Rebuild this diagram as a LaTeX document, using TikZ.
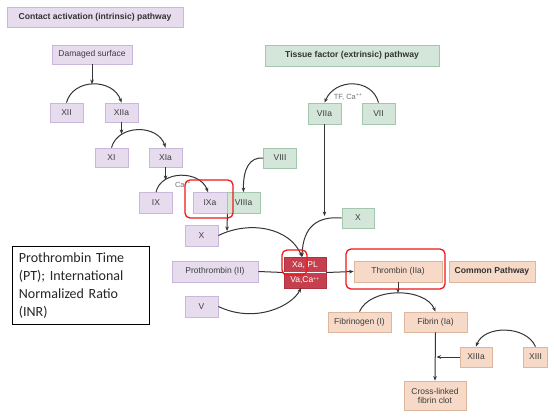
\documentclass[tikz,border=0pt]{standalone}
\usepackage{fontspec}
\setmainfont{Liberation Sans}
\newfontfamily\calibri{Carlito}
\usetikzlibrary{arrows.meta}

\definecolor{txt}{HTML}{3C3C3C}
\definecolor{lineclr}{HTML}{353535}
\definecolor{purfill}{HTML}{E6DCEE}
\definecolor{purdraw}{HTML}{C9B8D9}
\definecolor{grnfill}{HTML}{D3E6D9}
\definecolor{grndraw}{HTML}{A3C6AE}
\definecolor{pchfill}{HTML}{F6D9C7}
\definecolor{pchdraw}{HTML}{DDB69D}
\definecolor{xafill}{HTML}{C63F4E}
\definecolor{xadraw}{HTML}{AF3240}
\definecolor{ringclr}{HTML}{EE1A1A}

\newcommand{\plusplus}{\textsuperscript{\fontsize{5}{5}\selectfont ++}}

\tikzset{
  box/.style={rectangle, inner sep=0pt, line width=0.8pt, text=txt,
    font=\fontsize{8.5}{10}\selectfont, align=center},
  pur/.style={box, fill=purfill, draw=purdraw},
  grn/.style={box, fill=grnfill, draw=grndraw},
  pch/.style={box, fill=pchfill, draw=pchdraw},
  hdr/.style={font=\fontsize{8.6}{10}\selectfont\bfseries, text=black!80},
  conn/.style={draw=lineclr, line width=1pt},
  arr/.style={conn, -{Stealth[length=4.5pt,width=3.6pt]}},
  ring/.style={draw=ringclr, line width=1.3pt, rounded corners=5pt,
    rectangle, inner sep=0pt, fill=none},
  note/.style={font=\fontsize{7.5}{8}\selectfont, text=black!55}
}

\begin{document}
\begin{tikzpicture}[x=1pt, y=-1pt]
\useasboundingbox (0,0) rectangle (554,418);
\fill[white] (0,0) rectangle (554,418);

% intrinsic pathway
\node[pur, hdr, minimum width=176pt, minimum height=20pt] (ttlA) at (95,17) {Contact activation (intrinsic) pathway};
\node[pur, minimum width=80pt, minimum height=19pt] (dmg) at (92,54.5) {Damaged surface};
\node[pur, minimum width=33pt, minimum height=19pt] (xii) at (66.5,112.5) {XII};
\node[pur, minimum width=33pt, minimum height=19pt] (xiia) at (121.5,112.5) {XIIa};
\node[pur, minimum width=33pt, minimum height=19pt] (xi) at (111.5,157.5) {XI};
\node[pur, minimum width=33pt, minimum height=19pt] (xia) at (165.5,157.5) {XIa};
\node[pur, minimum width=33pt, minimum height=21pt] (ix) at (156,203) {IX};
\node[pur, minimum width=34pt, minimum height=21pt] (ixa) at (210,203) {IXa};
\node[grn, minimum width=33pt, minimum height=21pt] (viiia) at (243.5,203) {VIIIa};
\node[grn, minimum width=33pt, minimum height=20pt] (viii) at (280,158) {VIII};
\node[pur, minimum width=33pt, minimum height=21pt] (xp) at (201.5,235.5) {X};
\node[pur, minimum width=86pt, minimum height=21pt] (pro) at (215,271.5) {Prothrombin (II)};
\node[pur, minimum width=33pt, minimum height=21pt] (v) at (201.5,306.5) {V};

% extrinsic pathway
\node[grn, hdr, minimum width=174pt, minimum height=21pt] (ttlB) at (352,55.5) {Tissue factor (extrinsic) pathway};
\node[grn, minimum width=33pt, minimum height=21pt] (viia) at (324.5,113.5) {VIIa};
\node[grn, minimum width=33pt, minimum height=21pt] (vii) at (378.5,113.5) {VII};
\node[grn, minimum width=32pt, minimum height=20pt] (xg) at (358,218) {X};

% prothrombinase complex
\node[box, fill=xafill, draw=xadraw, minimum width=42pt, minimum height=31pt] (xa) at (305,272.5) {};
\draw[white, line width=0.8pt] (xa.west) -- (xa.east);
\node[text=white, font=\fontsize{8.5}{10}\selectfont] (xatop) at (305,265) {Xa, PL};
\node[text=white, font=\fontsize{8.5}{10}\selectfont] (xabot) at (305,280.5) {Va,Ca\plusplus};

% common pathway
\node[pch, minimum width=88pt, minimum height=21pt] (thr) at (398,271.5) {Thrombin (IIa)};
\node[pch, hdr, minimum width=86pt, minimum height=21pt] (cp) at (492,271.5) {Common Pathway};
\node[pch, minimum width=63pt, minimum height=20pt] (fbg) at (359.5,322) {Fibrinogen (I)};
\node[pch, minimum width=63pt, minimum height=20pt] (fbn) at (435.5,322) {Fibrin (Ia)};
\node[pch, minimum width=32pt, minimum height=20pt] (xiiia) at (476,357) {XIIIa};
\node[pch, minimum width=24pt, minimum height=20pt] (xiii) at (535.5,357) {XIII};
\node[pch, minimum width=62pt, minimum height=29pt] (clot) at (435,395.5) {Cross-linked\\[-1pt]fibrin clot};

% test box
\node[draw=black, line width=0.8pt, fill=white, minimum width=137pt, minimum height=78pt,
  text width=124pt, inner sep=0pt, align=left, anchor=north west,
  font=\calibri\fontsize{14}{18}\selectfont, text=black!85] (pt) at (12,246)
  {Prothrombin Time\\(PT); International\\Normalized Ratio\\(INR)};

% junction points on the arcs
\coordinate (j1) at (92,84);
\coordinate (j2) at (121.5,134);
\coordinate (j3) at (165.5,180);
\coordinate (j5) at (324.5,216);
\coordinate (j7) at (227,231);
\coordinate (j12) at (398,293);
\coordinate (j14) at (436.5,357);
\coordinate (xin) at (302,257);
\coordinate (vin) at (301,288);

% intrinsic cascade
\draw[arr] (dmg.south) -- (j1);
\draw[arr] (xii.north) .. controls (73,78) and (113,78) .. (xiia.north);
\draw[arr] (xiia.south) -- (j2);
\draw[arr] (xi.north) .. controls (118,124) and (158,124) .. (xia.north);
\draw[arr] (xia.south) -- (j3);
\node[note] (ca1) at (183,185) {Ca\plusplus};
\draw[arr] (ix.north) .. controls (161,170) and (200,170) .. ([xshift=-2pt]ixa.north);
\draw[arr] (viii.west) .. controls (250,157) and (243,168) .. (viiia.north);
\draw[arr] (ixa.south east) -- (j7);
\draw[arr] (xp.east) .. controls (250,220) and (290,228) .. (xin);

% extrinsic cascade
\draw[arr] (vii.north) .. controls (372,78) and (335,78) .. (viia.north);
\node[note] (tfca) at (348,97) {TF, Ca\plusplus};
\draw[arr] (viia.south) -- (j5);
\draw[arr] (xg.west) .. controls (318,216) and (303,226) .. (xin);

% into prothrombinase and thrombin
\draw[conn] (pro.east) -- (xa.west);
\draw[arr] (v.east) .. controls (255,324) and (292,306) .. (vin);
\draw[arr] (xa.east) -- (thr.west);

% common pathway
\draw[arr] (thr.south) -- (j12);
\draw[arr] (fbg.north) .. controls (370,287) and (425,287) .. (fbn.north);
\draw[arr] (fbn.south) -- (clot.north);
\draw[arr] (xiiia.west) -- (j14);
\draw[arr] (xiii.north) .. controls (526,325) and (484,325) .. (xiiia.north);

% highlight rings
\node[ring, minimum width=48pt, minimum height=38pt] (ringA) at (209,199) {};
\node[ring, minimum width=25pt, minimum height=25pt] (ringB) at (294.5,262.5) {};
\node[ring, minimum width=99pt, minimum height=40pt] (ringC) at (395.5,269) {};
\end{tikzpicture}
\end{document}
